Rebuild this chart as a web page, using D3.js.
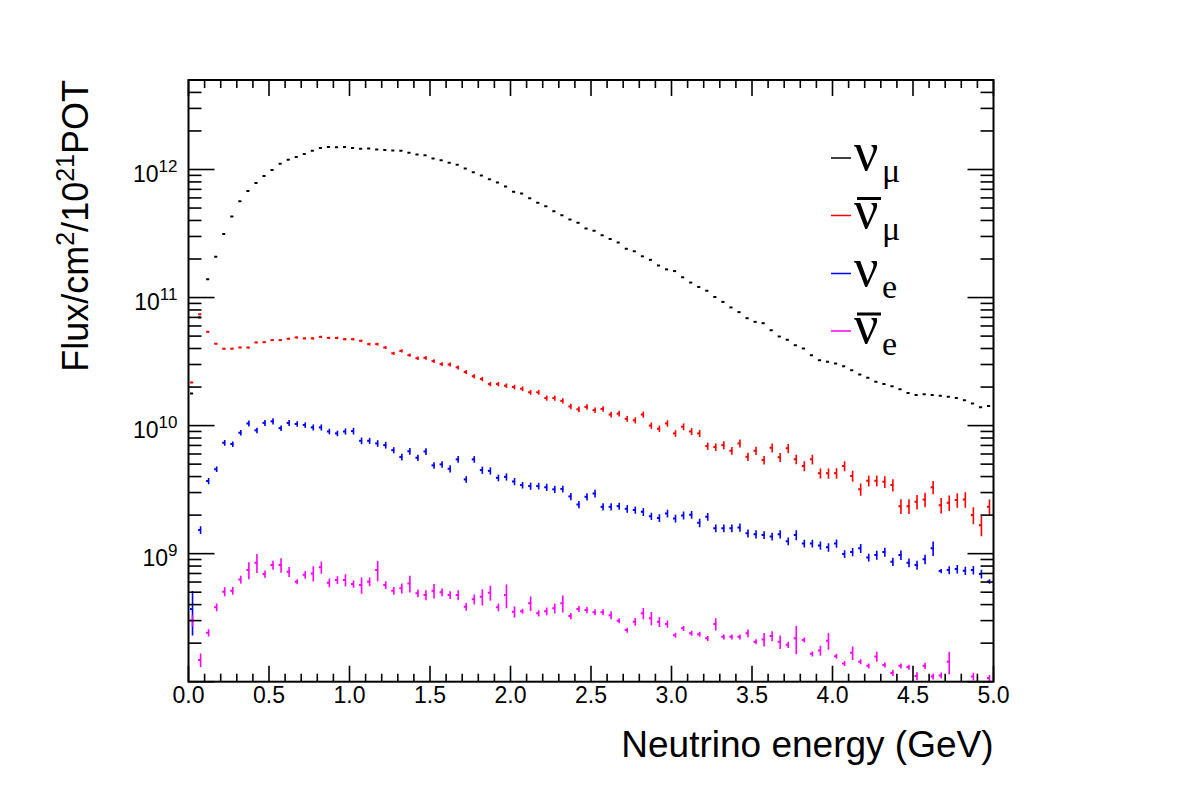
<!DOCTYPE html>
<html>
<head>
<meta charset="utf-8">
<script src="https://cdn.jsdelivr.net/npm/d3@7"></script>
<style>
    body { margin: 0; background: #fff; }
    svg { display: block; }
    text { font-family: "Liberation Sans", Arial, Helvetica, sans-serif; fill: #000; }
</style>
</head>
<body>
<div id="flux_chart"></div>
<script>
// 100 bins of 0.05 GeV between 0 and 5 GeV
const binCenters = d3.range(100).map(i => +(0.025 + 0.05 * i).toFixed(3));

// nu_mu flux (per cm2 per 1e21 POT)
const numu = [
    1.78e10, 7.0e10, 1.39e11, 2.08e11, 3.13e11, 4.3e11, 5.66e11, 6.78e11, 7.85e11, 8.9e11,
    9.93e11, 1.11e12, 1.19e12, 1.25e12, 1.32e12, 1.40e12, 1.47e12, 1.50e12, 1.49e12, 1.50e12,
    1.47e12, 1.45e12, 1.46e12, 1.43e12, 1.42e12, 1.41e12, 1.40e12, 1.35e12, 1.31e12, 1.29e12,
    1.22e12, 1.18e12, 1.13e12, 1.09e12, 1.02e12, 9.5e11, 8.98e11, 8.4e11, 7.9e11, 7.36e11,
    6.69e11, 6.5e11, 5.97e11, 5.49e11, 5.17e11, 4.73e11, 4.4e11, 4.07e11, 3.83e11, 3.46e11,
    3.32e11, 3.07e11, 2.87e11, 2.69e11, 2.40e11, 2.30e11, 2.10e11, 1.97e11, 1.78e11, 1.66e11,
    1.61e11, 1.44e11, 1.31e11, 1.21e11, 1.13e11, 1.01e11, 9.25e10, 8.37e10, 7.69e10, 6.9e10,
    6.46e10, 6.31e10, 5.56e10, 4.97e10, 4.68e10, 4.25e10, 4.0e10, 3.55e10, 3.24e10, 3.15e10,
    3.06e10, 2.91e10, 2.71e10, 2.51e10, 2.36e10, 2.20e10, 2.11e10, 2.03e10, 1.92e10, 1.80e10,
    1.73e10, 1.76e10, 1.73e10, 1.71e10, 1.68e10, 1.64e10, 1.58e10, 1.49e10, 1.39e10, 1.42e10
];
const numuErr = [
    0.004, 0.004, 0.004, 0.004, 0.004, 0.004, 0.004, 0.004, 0.004, 0.004,
    0.004, 0.004, 0.004, 0.004, 0.004, 0.004, 0.004, 0.004, 0.004, 0.004,
    0.004, 0.004, 0.004, 0.004, 0.004, 0.004, 0.004, 0.004, 0.004, 0.004,
    0.004, 0.004, 0.004, 0.004, 0.004, 0.004, 0.004, 0.004, 0.004, 0.004,
    0.005, 0.005, 0.005, 0.005, 0.005, 0.005, 0.005, 0.005, 0.005, 0.005,
    0.005, 0.005, 0.005, 0.005, 0.005, 0.005, 0.005, 0.005, 0.005, 0.005,
    0.006, 0.006, 0.006, 0.006, 0.006, 0.006, 0.006, 0.006, 0.006, 0.006,
    0.006, 0.006, 0.006, 0.006, 0.007, 0.007, 0.007, 0.007, 0.007, 0.007,
    0.007, 0.007, 0.007, 0.007, 0.008, 0.008, 0.008, 0.008, 0.008, 0.008,
    0.008, 0.008, 0.008, 0.008, 0.008, 0.008, 0.008, 0.008, 0.008, 0.008
];

// anti nu_mu
const numubar = [
    2.17e10, 7.4e10, 5.4e10, 4.36e10, 3.98e10, 3.99e10, 4.07e10, 4.07e10, 4.46e10, 4.48e10,
    4.65e10, 4.65e10, 4.76e10, 4.88e10, 4.8e10, 4.8e10, 4.93e10, 4.84e10, 4.84e10, 4.73e10,
    4.73e10, 4.59e10, 4.33e10, 4.33e10, 4.07e10, 3.67e10, 3.83e10, 3.55e10, 3.36e10, 3.38e10,
    3.19e10, 3.02e10, 3.0e10, 2.85e10, 2.62e10, 2.43e10, 2.31e10, 2.11e10, 2.11e10, 2.05e10,
    2.0e10, 1.94e10, 1.82e10, 1.82e10, 1.64e10, 1.64e10, 1.56e10, 1.41e10, 1.34e10, 1.40e10,
    1.32e10, 1.35e10, 1.22e10, 1.24e10, 1.13e10, 1.10e10, 1.22e10, 1.0e10, 9.45e9, 1.04e10,
    8.69e9, 9.8e9, 9.0e9, 8.69e9, 6.92e9, 6.8e9, 7.04e9, 6.36e9, 7.26e9, 5.71e9,
    6.36e9, 5.38e9, 6.71e9, 5.65e9, 6.64e9, 5.45e9, 4.83e9, 5.45e9, 4.24e9, 4.24e9,
    4.24e9, 4.83e9, 4.04e9, 3.18e9, 3.71e9, 3.71e9, 3.64e9, 3.43e9, 2.35e9, 2.35e9,
    2.54e9, 2.65e9, 3.3e9, 2.39e9, 2.5e9, 2.62e9, 2.65e9, 2.0e9, 1.67e9, 2.32e9
];
const numubarErr = [
    0.010, 0.010, 0.012, 0.012, 0.014, 0.014, 0.014, 0.015, 0.015, 0.016,
    0.016, 0.017, 0.018, 0.018, 0.019, 0.020, 0.020, 0.021, 0.022, 0.022,
    0.023, 0.024, 0.025, 0.026, 0.027, 0.028, 0.029, 0.030, 0.031, 0.032,
    0.033, 0.034, 0.035, 0.036, 0.037, 0.038, 0.039, 0.040, 0.040, 0.041,
    0.042, 0.043, 0.044, 0.045, 0.046, 0.047, 0.048, 0.049, 0.050, 0.050,
    0.050, 0.051, 0.052, 0.052, 0.054, 0.055, 0.056, 0.057, 0.058, 0.058,
    0.060, 0.062, 0.063, 0.065, 0.066, 0.068, 0.070, 0.070, 0.072, 0.075,
    0.075, 0.078, 0.080, 0.080, 0.082, 0.085, 0.090, 0.088, 0.090, 0.092,
    0.095, 0.090, 0.100, 0.110, 0.100, 0.100, 0.105, 0.110, 0.130, 0.130,
    0.130, 0.130, 0.120, 0.140, 0.140, 0.130, 0.140, 0.150, 0.180, 0.140
];

// nu_e
const nue = [
    3.7e8, 1.53e9, 3.69e9, 4.57e9, 7.34e9, 7.17e9, 8.8e9, 1.04e10, 9.18e9, 1.05e10,
    1.08e10, 9.56e9, 1.05e10, 1.03e10, 1.01e10, 9.68e9, 9.68e9, 9.0e9, 8.69e9, 9.0e9,
    9.06e9, 7.61e9, 7.61e9, 7.26e9, 7.04e9, 6.43e9, 5.68e9, 6.31e9, 5.61e9, 6.28e9,
    4.89e9, 4.98e9, 4.6e9, 5.45e9, 3.8e9, 5.45e9, 4.49e9, 4.43e9, 3.91e9, 3.98e9,
    3.66e9, 3.43e9, 3.37e9, 3.37e9, 3.3e9, 3.18e9, 3.2e9, 2.8e9, 2.42e9, 2.78e9,
    2.95e9, 2.32e9, 2.32e9, 2.35e9, 2.24e9, 2.19e9, 2.12e9, 1.96e9, 1.9e9, 2.06e9,
    1.88e9, 1.99e9, 2.01e9, 1.74e9, 1.94e9, 1.58e9, 1.58e9, 1.58e9, 1.6e9, 1.44e9,
    1.42e9, 1.40e9, 1.36e9, 1.42e9, 1.25e9, 1.40e9, 1.2e9, 1.2e9, 1.16e9, 1.12e9,
    1.2e9, 9.93e8, 1.03e9, 1.1e9, 9.35e8, 9.75e8, 1.03e9, 8.65e8, 9.75e8, 8.5e8,
    8.15e8, 9.03e8, 1.1e9, 7.31e8, 7.44e8, 7.58e8, 7.36e8, 7.44e8, 6.94e8, 6.07e8
];
const nueErr = [
    0.38, 0.07, 0.055, 0.05, 0.05, 0.05, 0.05, 0.055, 0.05, 0.055,
    0.055, 0.05, 0.055, 0.05, 0.05, 0.055, 0.055, 0.05, 0.05, 0.055,
    0.06, 0.06, 0.055, 0.06, 0.06, 0.055, 0.06, 0.06, 0.055, 0.06,
    0.06, 0.06, 0.065, 0.06, 0.06, 0.06, 0.065, 0.065, 0.06, 0.065,
    0.065, 0.06, 0.065, 0.06, 0.065, 0.065, 0.06, 0.065, 0.065, 0.065,
    0.07, 0.065, 0.065, 0.065, 0.07, 0.065, 0.07, 0.065, 0.07, 0.07,
    0.07, 0.07, 0.07, 0.075, 0.07, 0.07, 0.07, 0.07, 0.075, 0.07,
    0.075, 0.07, 0.07, 0.075, 0.07, 0.09, 0.07, 0.07, 0.075, 0.075,
    0.075, 0.07, 0.075, 0.08, 0.07, 0.08, 0.08, 0.075, 0.085, 0.08,
    0.08, 0.085, 0.13, 0.04, 0.07, 0.075, 0.075, 0.075, 0.08, 0.04
];

// anti nu_e
const nuebar = [
    3.0e8, 1.48e8, 2.41e8, 3.81e8, 5.05e8, 5.13e8, 6.29e8, 7.44e8, 8.5e8, 6.94e8,
    8.15e8, 8.15e8, 7.22e8, 6.04e8, 6.85e8, 7.01e8, 7.82e8, 5.93e8, 6.22e8, 6.22e8,
    5.79e8, 5.69e8, 6.04e8, 7.44e8, 5.69e8, 5.13e8, 5.36e8, 5.85e8, 4.9e8, 4.75e8,
    5.13e8, 4.99e8, 4.75e8, 4.75e8, 3.85e8, 4.4e8, 4.61e8, 4.95e8, 3.81e8, 4.75e8,
    3.52e8, 3.55e8, 4.09e8, 3.42e8, 3.55e8, 3.74e8, 4.09e8, 3.26e8, 3.7e8, 3.63e8,
    3.49e8, 3.49e8, 3.31e8, 2.99e8, 2.53e8, 2.94e8, 3.42e8, 3.13e8, 2.94e8, 2.82e8,
    2.31e8, 2.61e8, 2.39e8, 2.35e8, 2.18e8, 2.82e8, 2.24e8, 2.24e8, 2.24e8, 2.39e8,
    2.05e8, 2.14e8, 2.27e8, 2.05e8, 1.94e8, 2.18e8, 2.12e8, 1.65e8, 1.75e8, 2.09e8,
    1.58e8, 1.39e8, 1.68e8, 1.43e8, 1.33e8, 1.57e8, 1.35e8, 1.17e8, 1.33e8, 1.30e8,
    1.11e8, 1.33e8, 1.10e8, 1.12e8, 1.43e8, 9.0e7, 8.6e7, 1.10e8, 9.2e7, 1.07e8
];
const nuebarErr = [
    0.10, 0.12, 0.065, 0.07, 0.08, 0.07, 0.07, 0.15, 0.17, 0.065,
    0.08, 0.13, 0.09, 0.045, 0.07, 0.135, 0.11, 0.08, 0.07, 0.11,
    0.065, 0.145, 0.08, 0.18, 0.07, 0.07, 0.09, 0.15, 0.07, 0.09,
    0.13, 0.07, 0.07, 0.09, 0.07, 0.09, 0.145, 0.135, 0.07, 0.21,
    0.10, 0.045, 0.13, 0.055, 0.07, 0.09, 0.15, 0.055, 0.055, 0.055,
    0.055, 0.055, 0.07, 0.045, 0.045, 0.07, 0.10, 0.12, 0.09, 0.065,
    0.045, 0.045, 0.045, 0.045, 0.045, 0.11, 0.045, 0.045, 0.045, 0.07,
    0.045, 0.12, 0.09, 0.12, 0.055, 0.25, 0.045, 0.045, 0.09, 0.15,
    0.045, 0.045, 0.12, 0.045, 0.045, 0.09, 0.045, 0.055, 0.045, 0.045,
    0.07, 0.055, 0.055, 0.055, 0.20, 0.05, 0.05, 0.07, 0.05, 0.055
];

const seriesColors = ["#000000", "#ff0000", "#0000ff", "#ff00ff"];
const legendSubs = ["μ", "μ", "e", "e"];
const legendBars = [false, true, false, true];

const xTickLabels = ["0.0", "0.5", "1.0", "1.5", "2.0", "2.5", "3.0", "3.5", "4.0", "4.5", "5.0"];
const yLabelExponents = [9, 10, 11, 12];

function drawChart() {
    const width = 1182, height = 803;
    const frame = { left: 188.5, right: 993.5, top: 80, bottom: 681.7 };

    const svg = d3.select("#flux_chart")
        .append("svg")
        .attr("width", width)
        .attr("height", height);

    const x = d3.scaleLinear().domain([0, 5]).range([frame.left, frame.right]);
    const y = d3.scaleLog().domain([1e8, 5e12]).range([frame.bottom, frame.top]);

    svg.append("defs").append("clipPath").attr("id", "plotclip")
        .append("rect")
        .attr("x", frame.left).attr("y", frame.top)
        .attr("width", frame.right - frame.left)
        .attr("height", frame.bottom - frame.top);

    // data points with vertical error bars
    const allSeries = [
        { values: numu, errs: numuErr },
        { values: numubar, errs: numubarErr },
        { values: nue, errs: nueErr },
        { values: nuebar, errs: nuebarErr }
    ];

    const plot = svg.append("g").attr("clip-path", "url(#plotclip)");

    allSeries.forEach((s, k) => {
        const pts = binCenters.map((e, i) => ({ e: e, v: s.values[i], err: s.values[i] * s.errs[i] }));
        const g = plot.append("g").attr("stroke", seriesColors[k]);

        g.selectAll("line.err")
            .data(pts)
            .enter()
            .append("line")
            .attr("class", "err")
            .attr("x1", d => x(d.e))
            .attr("x2", d => x(d.e))
            .attr("y1", d => y(d.v + d.err))
            .attr("y2", d => y(Math.max(d.v - d.err, 1e7)))
            .attr("stroke-width", 1.6);

        g.selectAll("line.mark")
            .data(pts)
            .enter()
            .append("line")
            .attr("class", "mark")
            .attr("x1", d => x(d.e) - 2.5)
            .attr("x2", d => x(d.e) + 0.5)
            .attr("y1", d => y(d.v))
            .attr("y2", d => y(d.v))
            .attr("stroke-width", 2);
    });

    // frame
    svg.append("rect")
        .attr("x", frame.left).attr("y", frame.top)
        .attr("width", frame.right - frame.left)
        .attr("height", frame.bottom - frame.top)
        .attr("fill", "none")
        .attr("stroke", "#000")
        .attr("stroke-width", 2);

    const axes = svg.append("g").attr("stroke", "#000").attr("stroke-width", 1.6);

    // x ticks, bottom and top
    const xTicks = d3.range(0, 51).map(k => ({ v: k / 10, major: k % 5 === 0 }));
    xTicks.forEach(t => {
        const len = t.major ? 16 : 8;
        axes.append("line")
            .attr("x1", x(t.v)).attr("x2", x(t.v))
            .attr("y1", frame.bottom).attr("y2", frame.bottom - len);
        axes.append("line")
            .attr("x1", x(t.v)).attr("x2", x(t.v))
            .attr("y1", frame.top).attr("y2", frame.top + len);
    });

    // y ticks, left and right
    const yTicks = [];
    for (let dec = 8; dec <= 12; dec++) {
        for (let m = 1; m <= 9; m++) {
            const v = m * Math.pow(10, dec);
            if (v <= 5e12) yTicks.push({ v: v, major: m === 1 });
        }
    }
    yTicks.forEach(t => {
        const len = t.major ? 26 : 13;
        axes.append("line")
            .attr("x1", frame.left).attr("x2", frame.left + len)
            .attr("y1", y(t.v)).attr("y2", y(t.v));
        axes.append("line")
            .attr("x1", frame.right).attr("x2", frame.right - len)
            .attr("y1", y(t.v)).attr("y2", y(t.v));
    });

    // tick labels
    svg.selectAll("text.xlab")
        .data(xTickLabels)
        .enter()
        .append("text")
        .attr("class", "xlab")
        .attr("x", (d, i) => x(i * 0.5))
        .attr("y", 703)
        .attr("text-anchor", "middle")
        .style("font-size", "23px")
        .text(d => d);

    const ylab = svg.selectAll("text.ylab")
        .data(yLabelExponents)
        .enter()
        .append("text")
        .attr("class", "ylab")
        .attr("x", frame.left - 11)
        .attr("y", d => y(Math.pow(10, d)) + 12)
        .attr("text-anchor", "end")
        .style("font-size", "23px");
    ylab.append("tspan").text("10");
    ylab.append("tspan").attr("dy", -10).style("font-size", "17px").text(d => d);

    // axis titles
    svg.append("text")
        .attr("x", frame.right)
        .attr("y", 757)
        .attr("text-anchor", "end")
        .style("font-size", "37px")
        .text("Neutrino energy (GeV)");

    const ytitle = svg.append("text")
        .attr("transform", `translate(88,${frame.top}) rotate(-90)`)
        .attr("text-anchor", "end")
        .style("font-size", "36px");
    ytitle.append("tspan").text("Flux/cm");
    ytitle.append("tspan").attr("dy", -14).style("font-size", "25px").text("2");
    ytitle.append("tspan").attr("dy", 14).text("/10");
    ytitle.append("tspan").attr("dy", -14).style("font-size", "25px").text("21");
    ytitle.append("tspan").attr("dy", 14).text("POT");

    // legend
    const legendRows = [158, 215.5, 273.5, 331];
    const legend = svg.append("g");
    legendRows.forEach((ry, k) => {
        legend.append("line")
            .attr("x1", 831).attr("x2", 851)
            .attr("y1", ry).attr("y2", ry)
            .attr("stroke", seriesColors[k])
            .attr("stroke-width", 1.5);
        legend.append("text")
            .attr("x", 854)
            .attr("y", ry + 12)
            .style("font-family", "'Liberation Serif', 'Times New Roman', serif")
            .style("font-size", "54px")
            .text("ν");
        legend.append("text")
            .attr("x", 882)
            .attr("y", ry + 24)
            .style("font-family", "'Liberation Serif', 'Times New Roman', serif")
            .style("font-size", "34px")
            .text(legendSubs[k]);
        if (legendBars[k]) {
            legend.append("line")
                .attr("x1", 857).attr("x2", 881)
                .attr("y1", ry - 17).attr("y2", ry - 17)
                .attr("stroke", "#000")
                .attr("stroke-width", 3);
        }
    });
}

drawChart();
</script>
</body>
</html>
